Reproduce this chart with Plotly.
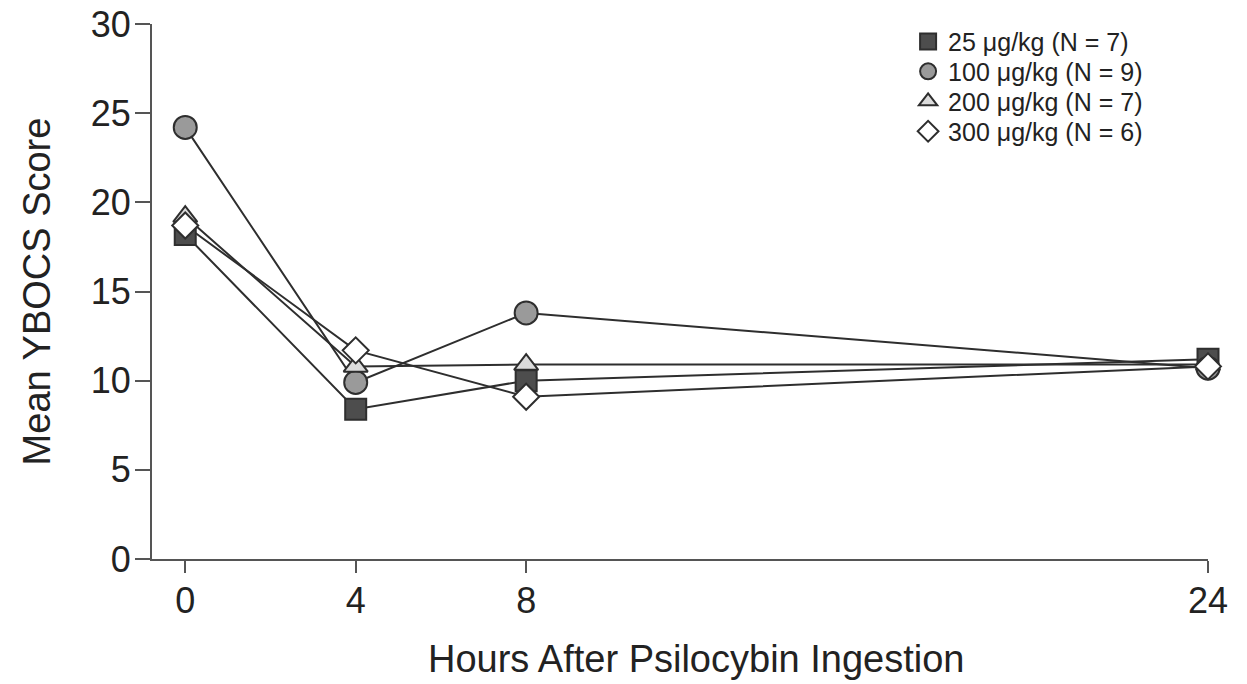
import plotly.graph_objects as go

hours = [0, 4, 8, 24]
tick_labels = ["0", "4", "8", "24"]
y_ticks = [0, 5, 10, 15, 20, 25, 30]
series_names = ["25 μg/kg (N = 7)", "100 μg/kg (N = 9)", "200 μg/kg (N = 7)", "300 μg/kg (N = 6)"]
dose_25 = [18.2, 8.4, 10.0, 11.2]
dose_100 = [24.2, 9.9, 13.8, 10.7]
dose_200 = [19.2, 10.8, 10.9, 10.9]
dose_300 = [18.7, 11.7, 9.1, 10.8]

series_values = [dose_25, dose_100, dose_200, dose_300]
symbols = ["square", "circle", "triangle-up", "diamond"]
fills = ["#4d4d4d", "#9a9a9a", "#dcdcdc", "#ffffff"]
sizes = [21, 23, 21, 20]
legend_ids = ["legend", "legend2", "legend3", "legend4"]
legend_y = [0.967, 0.911, 0.855, 0.799]

FONT = "Liberation Sans, Arial, Helvetica, sans-serif"

fig = go.Figure()
# lines first
for vals in series_values:
    fig.add_trace(go.Scatter(x=hours, y=vals, mode="lines",
                             line=dict(color="#2e2e2e", width=2),
                             showlegend=False, hoverinfo="skip", cliponaxis=False))
# markers on top
for name, vals, sym, col, sz in zip(series_names, series_values, symbols, fills, sizes):
    fig.add_trace(go.Scatter(x=hours, y=vals, mode="markers", name=name,
                             marker=dict(symbol=sym, size=sz, color=col,
                                         line=dict(color="#2e2e2e", width=2)),
                             showlegend=False, cliponaxis=False))
# legend-only entries (markers only), each in its own legend row
for name, sym, col, lg in zip(series_names, symbols, fills, legend_ids):
    fig.add_trace(go.Scatter(x=[None], y=[None], mode="markers", name=name, legend=lg,
                             marker=dict(symbol=sym, size=16, color=col,
                                         line=dict(color="#2e2e2e", width=2))))

legend_style = dict(x=0.716, xanchor="left", yanchor="middle",
                    font=dict(size=25, color="#222222", family=FONT),
                    bgcolor="rgba(0,0,0,0)", itemsizing="trace", itemwidth=30)
layout_legends = {}
for lg, ly in zip(legend_ids, legend_y):
    layout_legends[lg] = dict(legend_style, y=ly)

fig.update_layout(
    width=1247, height=684,
    margin=dict(l=152, r=39, t=24, b=125, autoexpand=False),
    paper_bgcolor="white", plot_bgcolor="white",
    font=dict(family=FONT, color="#222222"),
    xaxis=dict(range=[-0.78, 24], tickvals=hours, ticktext=tick_labels,
               showgrid=False, zeroline=False, showline=True, automargin=False,
               linecolor="#555555", linewidth=2,
               ticks="outside", ticklen=12, tickwidth=2, tickcolor="#555555",
               tickfont=dict(size=36), ticklabelstandoff=-3, ticklabeloverflow="allow"),
    yaxis=dict(range=[0, 30], tickvals=y_ticks,
               showgrid=False, zeroline=False, showline=True, automargin=False,
               linecolor="#555555", linewidth=2,
               ticks="outside", ticklen=15, tickwidth=2, tickcolor="#555555",
               tickfont=dict(size=36), ticklabelstandoff=-3, ticklabeloverflow="allow",
               title=dict(text="Mean YBOCS Score", font=dict(size=38), standoff=28)),
    annotations=[dict(text="Hours After Psilocybin Ingestion", xref="paper", yref="paper",
                      x=0.516, y=-0.187, xanchor="center", yanchor="middle",
                      showarrow=False, font=dict(size=38, color="#222222", family=FONT))],
    **layout_legends,
)

fig.write_html("out.html", post_script="document.body.style.margin='0';",
               config={"displayModeBar": False})
